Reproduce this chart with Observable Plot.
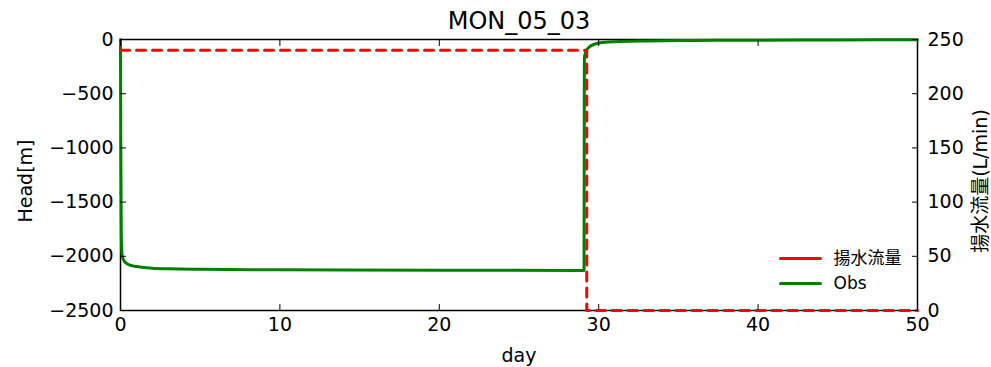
<!DOCTYPE html>
<html>
<head>
<meta charset="utf-8">
<script src="https://cdn.jsdelivr.net/npm/d3@7"></script>
<script src="https://cdn.jsdelivr.net/npm/@observablehq/plot@0.6"></script>
<style>
  html, body { margin: 0; padding: 0; background: #fff; }
</style>
</head>
<body>
<div id="chart"></div>
<script>
const title = "MON_05_03";
const xLabel = "day";
const yLabelLeft = "Head[m]";
const yLabelRight = "揚水流量(L/min)";
const seriesNames = ["揚水流量", "Obs"];

const xTicks = [0, 10, 20, 30, 40, 50];
const headTicks = [-2500, -2000, -1500, -1000, -500, 0];
const rateTicks = [0, 50, 100, 150, 200, 250];

// Pumping rate (L/min)
const pumpDays = [0, 29.25, 29.25, 50];
const pumpRate = [240, 240, 0, 0];

// Observed head (m)
const obsDays = [0, 0.02, 0.05, 0.1, 0.2, 0.35, 0.6, 1, 1.5, 2, 3, 5, 10, 20, 29.08,
                 29.1, 29.2, 29.4, 29.7, 30.1, 31, 33, 36, 40, 45, 50];
const obsHead = [0, -1000, -1800, -1990, -2035, -2062, -2082, -2095, -2103, -2110, -2115, -2120, -2125, -2128, -2130,
                 -170, -110, -70, -45, -30, -20, -13, -9, -6, -4, -3];

// Twin-axis mapping: rate 0..250 -> head -2500..0
const rateToHead = r => r * 10 - 2500;
const headToRate = h => (h + 2500) / 10;

const pump = pumpDays.map((d, i) => ({day: d, rate: pumpRate[i]}));
const obs = obsDays.map((d, i) => ({day: d, head: obsHead[i]}));

const lineShape = {draw(context, l) { context.moveTo(0, 0); context.lineTo(0, -l); }};
const fmt = d3.format("d");

const chart = Plot.plot({
  width: 991,
  height: 367,
  marginLeft: 120,
  marginRight: 74,
  marginTop: 39,
  marginBottom: 57,
  style: {fontFamily: "'DejaVu Sans', 'Noto Sans CJK JP', sans-serif", background: "#fff", color: "#000"},
  x: {domain: [0, 50]},
  y: {domain: [-2500, 0]},
  marks: [
    Plot.frame({stroke: "#000", strokeWidth: 1.5}),
    Plot.line(obs, {x: "day", y: "head", stroke: "#008000", strokeWidth: 3, curve: "monotone-x"}),
    Plot.line(pump, {x: "day", y: d => rateToHead(d.rate), stroke: "#ff0000", strokeWidth: 3, strokeDasharray: "9,7"}),
    Plot.axisX(xTicks, {anchor: "bottom", tickSize: -6, tickPadding: 13, fontSize: 19, tickFormat: fmt, label: null}),
    Plot.axisX(xTicks, {anchor: "top", tickSize: -6, tickFormat: () => "", label: null}),
    Plot.axisY(headTicks, {anchor: "left", tickSize: -6, tickPadding: 13, fontSize: 19, tickFormat: fmt, label: null}),
    Plot.axisY(rateTicks.map(rateToHead), {anchor: "right", tickSize: -6, tickPadding: 16, fontSize: 19, tickFormat: h => fmt(headToRate(h)), label: null}),
    Plot.text([title], {frameAnchor: "top", lineAnchor: "middle", textAnchor: "middle", dy: -18, fontSize: 24}),
    Plot.text([xLabel], {frameAnchor: "bottom", lineAnchor: "middle", textAnchor: "middle", dy: 45, fontSize: 19}),
    Plot.text([yLabelLeft], {frameAnchor: "left", lineAnchor: "middle", textAnchor: "middle", dx: -95, dy: 6, rotate: -90, fontSize: 19}),
    Plot.text([yLabelRight], {frameAnchor: "right", lineAnchor: "middle", textAnchor: "middle", dx: 63, dy: 6, rotate: -90, fontSize: 19}),
    // legend
    Plot.vector([seriesNames[0]], {frameAnchor: "bottom-right", length: 40, rotate: 90, anchor: "start", shape: lineShape, stroke: "#ff0000", strokeWidth: 3, dx: -137, dy: -52}),
    Plot.vector([seriesNames[1]], {frameAnchor: "bottom-right", length: 40, rotate: 90, anchor: "start", shape: lineShape, stroke: "#008000", strokeWidth: 3, dx: -137, dy: -27}),
    Plot.text([seriesNames[0]], {frameAnchor: "bottom-right", lineAnchor: "middle", textAnchor: "start", dx: -84, dy: -52, fontSize: 17}),
    Plot.text([seriesNames[1]], {frameAnchor: "bottom-right", lineAnchor: "middle", textAnchor: "start", dx: -84, dy: -27, fontSize: 17})
  ]
});
document.getElementById("chart").appendChild(chart);
</script>
</body>
</html>
